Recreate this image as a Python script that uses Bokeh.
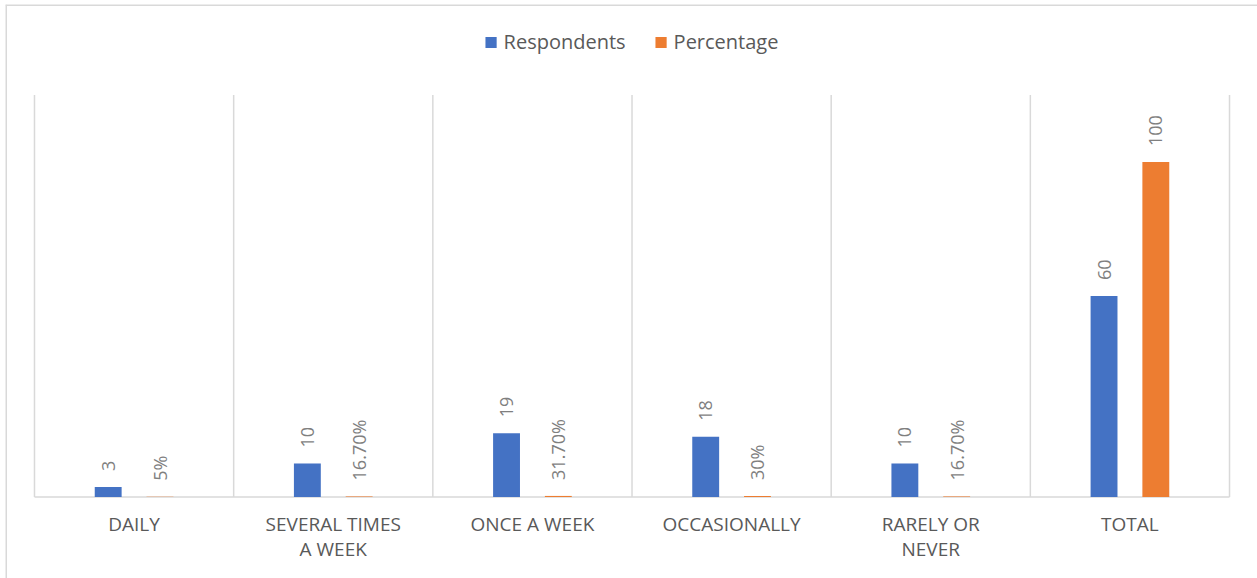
import numpy as np
from bokeh.plotting import figure
from bokeh.models import ColumnDataSource, Range1d, Legend, LegendItem
from bokeh.embed import file_html
from bokeh.resources import INLINE
from bokeh.core.properties import value

# ---- data ----
categories = ["DAILY", "SEVERAL TIMES A WEEK", "ONCE A WEEK", "OCCASIONALLY", "RARELY OR NEVER", "TOTAL"]
category_labels = ["DAILY", "SEVERAL TIMES\nA WEEK", "ONCE A WEEK", "OCCASIONALLY", "RARELY OR\nNEVER", "TOTAL"]
respondents = [3, 10, 19, 18, 10, 60]
percentage = [0.05, 0.167, 0.317, 0.30, 0.167, 100]
respondent_labels = ["3", "10", "19", "18", "10", "60"]
percentage_labels = ["5%", "16.70%", "31.70%", "30%", "16.70%", "100"]

BLUE = "#4472C4"
ORANGE = "#ED7D31"
GRID = "#d9d9d9"
FONT = value("Open Sans")

n = len(categories)
idx = np.arange(n)
centers = idx + 0.5
off = 0.13
bw = 0.135

src = ColumnDataSource(dict(
    xc=centers,
    xr=centers - off,
    xp=centers + off,
    resp=respondents,
    perc=percentage,
    rlab=respondent_labels,
    plab=percentage_labels,
    clab=category_labels,
))

p = figure(width=1257, height=578, output_backend="svg", toolbar_location=None,
           x_range=Range1d(-0.1456, 6.1405), y_range=Range1d(-24.33, 147.0),
           x_axis_location=None, y_axis_location=None,
           min_border_left=5, min_border_top=4, min_border_right=0, min_border_bottom=0)
p.grid.visible = False
p.outline_line_color = None
p.background_fill_color = "white"
p.border_fill_color = "white"

# chart border (left & top)
p.segment(x0=[-0.1456, -0.1456], y0=[-24.33, 147.0], x1=[-0.1456, 6.1405], y1=[147.0, 147.0],
          line_color=GRID, line_width=3)

# category separators and baseline
bounds = np.arange(n + 1)
p.segment(x0=bounds, y0=0, x1=bounds, y1=120, line_color=GRID, line_width=1.5)
p.segment(x0=[0], y0=[0], x1=[n], y1=[0], line_color=GRID, line_width=1.5)

r1 = p.vbar(x="xr", top="resp", width=bw, source=src, fill_color=BLUE, line_color=None)
r2 = p.vbar(x="xp", top="perc", width=bw, source=src, fill_color=ORANGE, line_color=None)

# data labels
p.text(x="xr", y="resp", text="rlab", source=src, angle=np.pi / 2, text_align="left",
       text_baseline="middle", y_offset=-16, text_font=FONT, text_font_size="18px",
       text_color="#7f7f7f")
p.text(x="xp", y="perc", text="plab", source=src, angle=np.pi / 2, text_align="left",
       text_baseline="middle", y_offset=-16, text_font=FONT, text_font_size="18px",
       text_color="#7f7f7f")

# category labels
p.text(x="xc", y=0, text="clab", source=src, text_align="center", text_baseline="top",
       y_offset=14, text_font=FONT, text_font_size="19px", text_color="#595959",
       text_line_height=0.97)

legend = Legend(items=[LegendItem(label="Respondents", renderers=[r1]),
                       LegendItem(label="Percentage", renderers=[r2])],
                orientation="horizontal", location="top_center",
                label_text_font="Open Sans", label_text_font_size="20px",
                label_text_color="#595959", glyph_width=14, glyph_height=14,
                label_standoff=6, spacing=28, margin=24, padding=10,
                border_line_color=None, background_fill_alpha=0)
p.add_layout(legend, "center")

open("out.html", "w").write(file_html(p, INLINE))
